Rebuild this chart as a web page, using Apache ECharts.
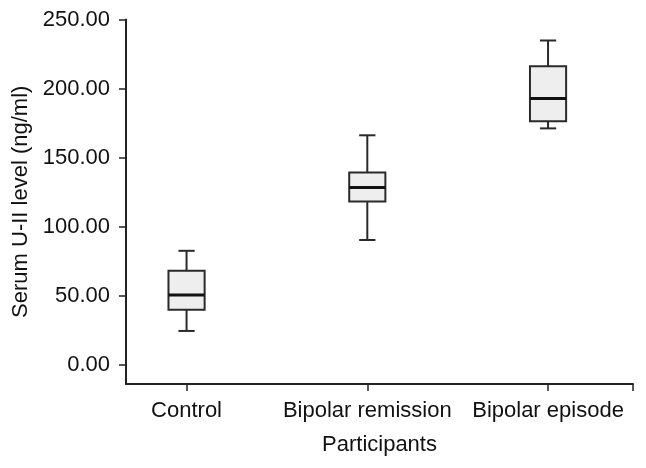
<!DOCTYPE html>
<html>
<head>
<meta charset="utf-8">
<script src="https://cdn.jsdelivr.net/npm/echarts@6/dist/echarts.min.js"></script>
<style>html,body{margin:0;padding:0;background:#fff}#c{width:646px;height:468px}</style>
</head>
<body>
<div id="c"></div>
<script>
var categories = ['Control', 'Bipolar remission', 'Bipolar episode'];
var lowerWhisker = [24.6, 90.4, 171.2];
var q1 = [39.9, 118.3, 176.3];
var median = [50.7, 128.5, 192.8];
var q3 = [68.1, 139.3, 216.2];
var upperWhisker = [82.6, 166.2, 234.8];
var yTicks = [0, 50, 100, 150, 200, 250];

var data = categories.map(function (c, i) {
  return [i + 1, lowerWhisker[i], q1[i], median[i], q3[i], upperWhisker[i]];
});

var FONT = '"Liberation Sans", Arial, sans-serif';
var INK = '#111';

function renderItem(params, api) {
  var x = api.value(0);
  var pLo = api.coord([x, api.value(1)]);
  var pQ1 = api.coord([x, api.value(2)]);
  var pMed = api.coord([x, api.value(3)]);
  var pQ3 = api.coord([x, api.value(4)]);
  var pHi = api.coord([x, api.value(5)]);
  var bw = api.size([0.2, 0])[0];
  var cw = api.size([0.09, 0])[0];
  var cx = pMed[0];
  var line = {stroke: '#2a2a2a', lineWidth: 2};
  return {
    type: 'group',
    children: [
      {type: 'line', shape: {x1: cx, y1: pHi[1], x2: cx, y2: pQ3[1]}, style: line},
      {type: 'line', shape: {x1: cx, y1: pQ1[1], x2: cx, y2: pLo[1]}, style: line},
      {type: 'line', shape: {x1: cx - cw / 2, y1: pHi[1], x2: cx + cw / 2, y2: pHi[1]}, style: line},
      {type: 'line', shape: {x1: cx - cw / 2, y1: pLo[1], x2: cx + cw / 2, y2: pLo[1]}, style: line},
      {type: 'rect', shape: {x: cx - bw / 2, y: pQ3[1], width: bw, height: pQ1[1] - pQ3[1]},
        style: {fill: '#eeeeee', stroke: '#2a2a2a', lineWidth: 2}},
      {type: 'line', shape: {x1: cx - bw / 2, y1: pMed[1], x2: cx + bw / 2, y2: pMed[1]},
        style: {stroke: '#111', lineWidth: 3}}
    ]
  };
}

var chart = echarts.init(document.getElementById('c'));
chart.setOption({
  animation: false,
  backgroundColor: '#fff',
  grid: {left: 126, right: 13, top: 19.5, bottom: 84},
  xAxis: {
    type: 'value', min: 0.665, max: 3.47,
    name: 'Participants', nameLocation: 'middle', nameGap: 50,
    nameTextStyle: {fontFamily: FONT, fontSize: 22, color: INK},
    axisLine: {show: true, onZero: false, lineStyle: {color: '#222', width: 2}},
    axisTick: {show: true, length: 7, lineStyle: {color: '#222', width: 1.5}, customValues: [1, 2, 3, 3.47]},
    axisLabel: {show: true, customValues: [1, 2, 3], margin: 16,
      fontFamily: FONT, fontSize: 22, color: INK,
      formatter: function (v) { return categories[Math.round(v) - 1] || ''; }},
    splitLine: {show: false}
  },
  yAxis: {
    type: 'value', min: -13.8, max: 250,
    name: 'Serum U-II level (ng/ml)', nameLocation: 'middle', nameGap: 92,
    nameTextStyle: {fontFamily: FONT, fontSize: 22, color: INK},
    axisLine: {show: true, onZero: false, lineStyle: {color: '#222', width: 2}},
    axisTick: {show: true, length: 7, lineStyle: {color: '#222', width: 1.5}, customValues: yTicks},
    axisLabel: {show: true, customValues: yTicks, margin: 16,
      fontFamily: FONT, fontSize: 22, color: INK,
      formatter: function (v) { return v.toFixed(2); }},
    splitLine: {show: false}
  },
  series: [{
    type: 'custom',
    renderItem: renderItem,
    encode: {x: 0, y: [1, 2, 3, 4, 5]},
    data: data
  }]
});
</script>
</body>
</html>
